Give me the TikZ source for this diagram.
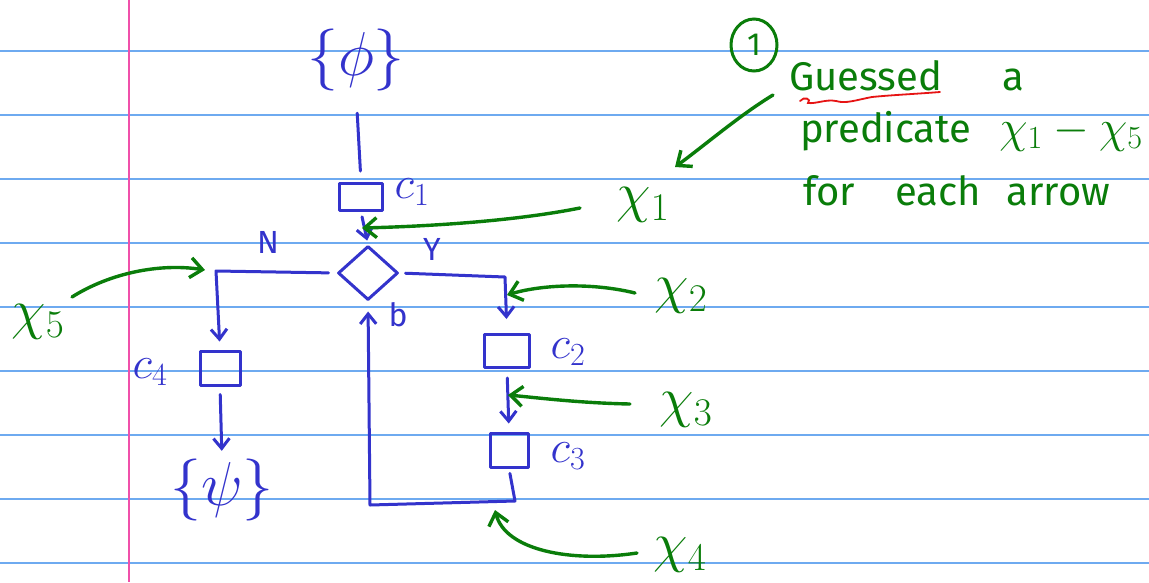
\RequirePackage{fix-cm}
\documentclass[tikz,border=0pt]{standalone}
\usepackage{fontspec}
\setmainfont{Fira Sans}
\usetikzlibrary{shapes.geometric,arrows.meta}
\definecolor{ink}{RGB}{51,51,204}
\definecolor{gink}{RGB}{10,125,10}
\definecolor{rulecol}{RGB}{110,170,240}
\definecolor{margincol}{RGB}{240,80,170}
\definecolor{rink}{RGB}{230,20,20}
\begin{document}
\begin{tikzpicture}[x=1pt,y=-1pt,
  pen/.style={draw=ink,line width=3pt,line cap=round,line join=round},
  gpen/.style={draw=gink,line width=3.4pt,line cap=round,line join=round},
  barb/.style={-{Straight Barb[length=10pt,width=16pt]}},
  gbarb/.style={-{Straight Barb[length=12pt,width=20pt]}},
  box/.style={pen,rectangle,inner sep=0pt},
  lab/.style={text=ink,inner sep=0pt,font=\fontsize{32}{32}\selectfont},
  clab/.style={text=ink,inner sep=0pt,font=\fontsize{46}{46}\selectfont},
  big/.style={text=ink,inner sep=0pt,font=\fontsize{62}{62}\selectfont},
  glab/.style={text=gink,inner sep=0pt,font=\fontsize{56}{56}\selectfont},
  note/.style={text=gink,inner sep=0pt,anchor=base west,font=\fontsize{40}{40}\selectfont},
]
\fill[white] (0,0) rectangle (1149,582);
\useasboundingbox (0,0) rectangle (1149,582);
% paper
\foreach \yy in {51,115,...,563} \draw[rulecol,line width=1.5pt] (0,\yy) -- (1149,\yy);
\draw[margincol,line width=1.5pt] (129,0) -- (129,582);

% blue flowchart
\node[big] (phi) at (356,60) {$\{\phi\}$};
\node[box,minimum width=43pt,minimum height=27pt] (c1) at (361,197) {};
\node[clab] (c1l) at (412,192) {$c_1$};
\node[pen,diamond,minimum width=60pt,minimum height=54pt,inner sep=0pt] (d) at (368,273) {};
\node[lab] (N) at (268,242) {N};
\node[lab] (Y) at (432,249) {Y};
\node[lab] (b) at (398,315) {b};
\node[box,minimum width=45pt,minimum height=33pt] (c2) at (507,351) {};
\node[clab] (c2l) at (568,352) {$c_2$};
\node[box,minimum width=38pt,minimum height=34pt] (c3) at (509,450) {};
\node[clab] (c3l) at (568,456) {$c_3$};
\node[box,minimum width=40pt,minimum height=34pt] (c4) at (220,368) {};
\node[clab] (c4l) at (150,372) {$c_4$};
\node[big] (psi) at (222,490) {$\{\psi\}$};

\coordinate (nl) at (216,271);
\coordinate (nr) at (505,277);
\coordinate (br) at (515,501);
\coordinate (bl) at (370,505);

\draw[pen,shorten <=22pt,shorten >=11pt] (phi.south) -- (c1.north);
\draw[pen,barb,shorten <=5pt,shorten >=4pt] (c1.south) -- (d.north);
\draw[pen,barb,shorten <=8pt,shorten >=8pt] (d.west) -- (nl) -- (c4.north);
\draw[pen,barb,shorten <=6pt,shorten >=14pt] (d.east) -- (nr) -- (c2.north);
\draw[pen,barb,shorten <=9pt,shorten >=8pt] (c2.south) -- (c3.north);
\draw[pen,barb,shorten <=8pt,shorten >=8pt] (c4.south) -- (psi.north);
\draw[pen,barb,shorten <=5pt,shorten >=10pt] (c3.south) -- (br) -- (bl) -- (d.south);

% green annotations
\node[glab] (x1) at (643,205) {$\chi_1$};
\node[glab] (x2) at (681,296) {$\chi_2$};
\node[glab] (x3) at (686,410) {$\chi_3$};
\node[glab] (x4) at (680,555) {$\chi_4$};
\node[glab] (x5) at (38,322) {$\chi_5$};

\coordinate (s1) at (580,208); \coordinate (t1) at (362,228);
\coordinate (s2) at (635,293); \coordinate (t2) at (507,295);
\coordinate (s3) at (630,404); \coordinate (t3) at (508,395);
\coordinate (s4) at (637,553); \coordinate (t4) at (495,510);
\coordinate (s5) at (72,297);  \coordinate (t5) at (205,270);

\draw[gpen,gbarb] (s1) .. controls (520,220) and (440,226) .. (t1);
\draw[gpen,gbarb] (s2) .. controls (590,282) and (540,285) .. (t2);
\draw[gpen,gbarb] (s3) .. controls (580,403) and (540,398) .. (t3);
\draw[gpen,gbarb] (s4) .. controls (570,563) and (505,550) .. (t4);
\draw[gpen,gbarb] (s5) .. controls (110,273) and (160,263) .. (t5);

\node[draw=gink,line width=3pt,ellipse,minimum width=46pt,minimum height=52pt,inner sep=0pt,text=gink,font=\fontsize{32}{32}\selectfont] (one) at (754,45) {1};

\node[note] (l1) at (789,90) {Guessed\hspace{60pt}a};
\node[note] (l2) at (800,142) {predicate\hspace{28pt}{\fontsize{46}{46}\selectfont$\chi_1-\chi_5$}};
\node[note] (l3) at (803,205) {for\hspace{40pt}each\hspace{26pt}arrow};

\coordinate (s6) at (773,95); \coordinate (t6) at (675,167);
\draw[gpen,gbarb] (s6) .. controls (740,115) and (705,145) .. (t6);

\draw[rink,line width=1.8pt,line cap=round] (800,101) .. controls (804,96) and (812,99) .. (808,103)
  .. controls (816,104) and (826,99) .. (836,101) .. controls (846,104) and (856,100) .. (872,97)
  .. controls (892,95) and (915,94) .. (940,92);
\end{tikzpicture}
\end{document}
